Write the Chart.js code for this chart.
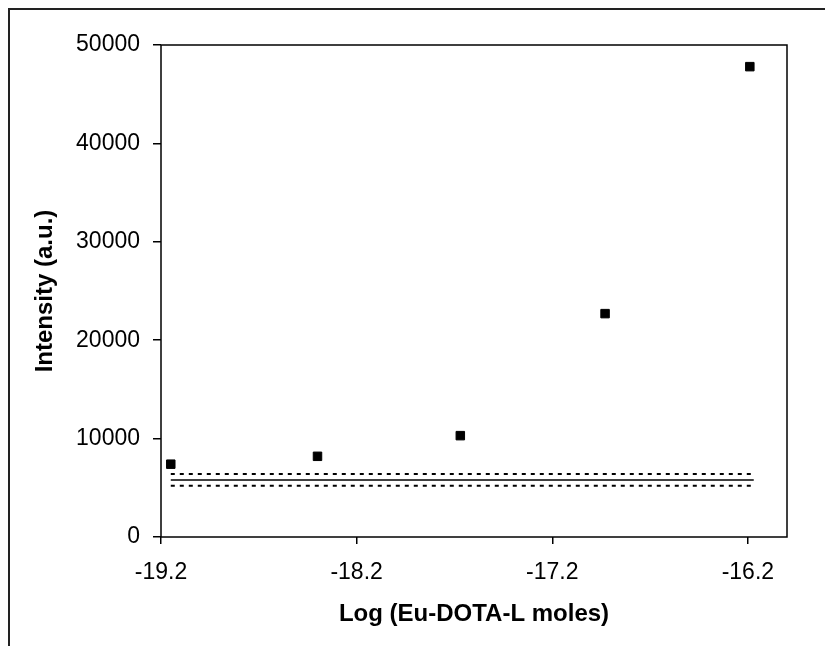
<!DOCTYPE html>
<html>
<head>
<meta charset="utf-8">
<script src="https://cdn.jsdelivr.net/npm/chart.js@4"></script>
<style>
  html, body { margin: 0; padding: 0; background: #fff; }
  #wrap { width: 825px; height: 646px; }
</style>
</head>
<body>
<div id="wrap"><canvas id="chart" width="825" height="646"></canvas></div>
<script>
// values
const logMoles = [-19.15, -18.40, -17.67, -16.93, -16.19];
const intensity = [7400, 8200, 10300, 22700, 47800];

// background level (mean and +/- band)
const bgX = [-19.15, -16.17];
const bgMean = [5800, 5800];
const bgUpper = [6400, 6400];
const bgLower = [5200, 5200];

const xTickValues = [-19.2, -18.2, -17.2, -16.2];
const xTickLabels = ['-19.2', '-18.2', '-17.2', '-16.2'];
const yTickLabels = ['0', '10000', '20000', '30000', '40000', '50000'];

function toPoints(xs, ys) {
  return xs.map(function (x, i) { return { x: x, y: ys[i] }; });
}

// outer frame and plot box
const framePlugin = {
  id: 'frame',
  afterDraw: function (chart) {
    const ctx = chart.ctx;
    const a = chart.chartArea;
    ctx.save();
    ctx.strokeStyle = '#222';
    ctx.lineWidth = 2;
    ctx.beginPath();
    ctx.moveTo(9, chart.height);
    ctx.lineTo(9, 9);
    ctx.lineTo(chart.width, 9);
    ctx.stroke();
    ctx.strokeStyle = '#000';
    ctx.lineWidth = 1.5;
    ctx.strokeRect(a.left, a.top, a.right - a.left, a.bottom - a.top);
    ctx.restore();
  }
};

const tickFont = { family: '"Liberation Sans", Arial, sans-serif', size: 23 };
const titleFont = { family: '"Liberation Sans", Arial, sans-serif', size: 24, weight: 'bold' };

new Chart(document.getElementById('chart').getContext('2d'), {
  type: 'scatter',
  data: {
    datasets: [{
      label: 'Intensity',
      data: toPoints(logMoles, intensity),
      pointStyle: 'rect',
      pointRadius: 6,
      pointHoverRadius: 6,
      backgroundColor: '#000',
      borderColor: '#000',
      borderWidth: 1
    }, {
      label: 'upper',
      data: toPoints(bgX, bgUpper),
      showLine: true,
      pointRadius: 0,
      borderColor: '#000',
      borderWidth: 2,
      borderDash: [4, 5]
    }, {
      label: 'mean',
      data: toPoints(bgX, bgMean),
      showLine: true,
      pointRadius: 0,
      borderColor: '#000',
      borderWidth: 1.5
    }, {
      label: 'lower',
      data: toPoints(bgX, bgLower),
      showLine: true,
      pointRadius: 0,
      borderColor: '#000',
      borderWidth: 2,
      borderDash: [4, 5]
    }]
  },
  options: {
    responsive: false,
    animation: false,
    layout: { padding: { top: 45, right: 38, left: 0, bottom: 0 } },
    plugins: {
      legend: { display: false },
      tooltip: { enabled: false }
    },
    scales: {
      x: {
        type: 'linear',
        min: -19.2,
        max: -16.0,
        afterBuildTicks: function (scale) {
          scale.ticks = xTickValues.map(function (v) { return { value: v }; });
        },
        afterFit: function (scale) {
          scale.height = 109;
          scale.paddingLeft = 0;
          scale.paddingRight = 0;
        },
        grid: { display: true, drawOnChartArea: false, drawTicks: true, tickLength: 7, color: '#000', lineWidth: 1.5 },
        border: { display: false },
        ticks: {
          color: '#000',
          font: tickFont,
          padding: 15,
          maxRotation: 0,
          autoSkip: false,
          callback: function (value, index) { return xTickLabels[index]; }
        },
        title: {
          display: true,
          text: 'Log (Eu-DOTA-L moles)',
          color: '#000',
          font: titleFont,
          padding: { top: 0, bottom: 17 }
        }
      },
      y: {
        min: 0,
        max: 50000,
        afterBuildTicks: function (scale) {
          scale.ticks = yTickLabels.map(function (t) { return { value: Number(t) }; });
        },
        afterFit: function (scale) {
          scale.width = 161;
          scale.paddingTop = 0;
          scale.paddingBottom = 0;
        },
        grid: { display: true, drawOnChartArea: false, drawTicks: true, tickLength: 8, color: '#000', lineWidth: 1.5 },
        border: { display: false },
        ticks: {
          color: '#000',
          font: tickFont,
          padding: 13,
          callback: function (value, index) { return yTickLabels[index]; }
        },
        title: {
          display: true,
          text: 'Intensity (a.u.)',
          color: '#000',
          font: titleFont,
          padding: { top: 31, bottom: 0 }
        }
      }
    }
  },
  plugins: [framePlugin]
});
</script>
</body>
</html>
